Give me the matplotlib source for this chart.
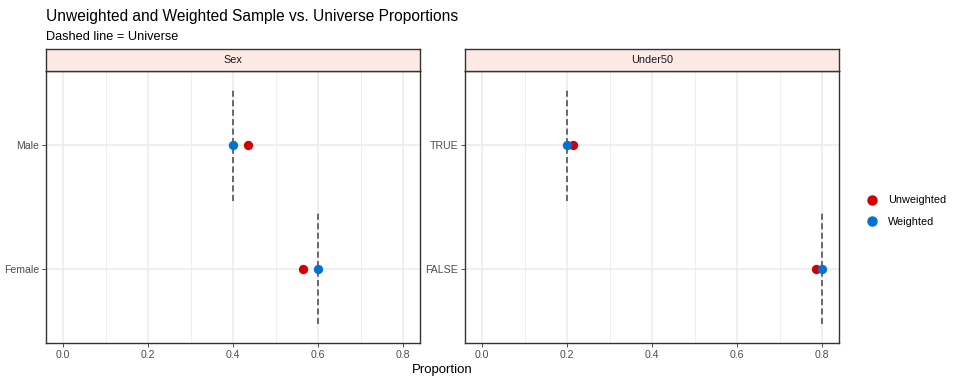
import matplotlib
matplotlib.use("Agg")
import matplotlib.pyplot as plt
from matplotlib.lines import Line2D

plt.rcParams['font.family'] = ['Liberation Sans', 'DejaVu Sans']

# data
panels = ["Sex", "Under50"]
levels = {"Sex": ["Female", "Male"], "Under50": ["FALSE", "TRUE"]}
unweighted = {"Sex": [0.565, 0.435], "Under50": [0.787, 0.213]}
weighted = {"Sex": [0.60, 0.40], "Under50": [0.80, 0.20]}
universe = {"Sex": [0.60, 0.40], "Under50": [0.80, 0.20]}
xticks = [0.0, 0.2, 0.4, 0.6, 0.8]

col_unw = "#D40000"
col_w = "#0072D6"
grid_col = "#EBEBEB"
border_col = "#333333"
strip_fill = "#FCE9E3"

W, H = 960, 384
fig = plt.figure(figsize=(W / 100, H / 100), dpi=100)


def frac(x0, y0, x1, y1):
    return [x0 / W, 1 - y1 / H, (x1 - x0) / W, (y1 - y0) / H]


lefts = [(46, 420), (465, 839)]
for (x0, x1), p in zip(lefts, panels):
    ax = fig.add_axes(frac(x0, 71, x1, 343))
    ax.set_xlim(-0.04, 0.84)
    ax.set_ylim(0.4, 2.6)
    ys = [1, 2]
    for v in [0.1, 0.3, 0.5, 0.7]:
        ax.axvline(v, color=grid_col, lw=0.55, zorder=0)
    for v in xticks:
        ax.axvline(v, color=grid_col, lw=1.1, zorder=0)
    for y in ys:
        ax.axhline(y, color=grid_col, lw=1.1, zorder=0)
    for y, u in zip(ys, universe[p]):
        ax.plot([u, u], [y - 0.45, y + 0.45], color="#444444", lw=1.1,
                dashes=(4.0, 2.2), zorder=1)
    ax.scatter(unweighted[p], ys, s=45, color=col_unw, zorder=3, linewidths=0)
    ax.scatter(weighted[p], ys, s=45, color=col_w, zorder=4, linewidths=0)
    ax.set_xticks(xticks)
    ax.set_xticklabels([f"{v:.1f}" for v in xticks])
    ax.set_yticks(ys)
    ax.set_yticklabels(levels[p])
    ax.tick_params(axis="both", colors="#333333", labelcolor="#4D4D4D",
                   labelsize=7.6, length=2.7, width=0.6, pad=2.2)
    for s in ax.spines.values():
        s.set_color(border_col)
        s.set_linewidth(1.0)
    # strip
    sx = fig.add_axes(frac(x0, 49, x1, 71))
    sx.set_facecolor(strip_fill)
    sx.set_xticks([])
    sx.set_yticks([])
    for s in sx.spines.values():
        s.set_color(border_col)
        s.set_linewidth(1.0)
    sx.text(0.5, 0.5, p, ha="center", va="center", fontsize=7.8,
            color="#1A1A1A", transform=sx.transAxes)

fig.text(46 / W, 1 - 17 / H, "Unweighted and Weighted Sample vs. Universe Proportions",
         fontsize=11.2, ha="left", va="center")
fig.text(46 / W, 1 - 37 / H, "Dashed line = Universe", fontsize=9.2,
         ha="left", va="center")
fig.text(442 / W, 1 - 370 / H, "Proportion", fontsize=9.5, ha="center", va="center")

handles = [
    Line2D([], [], marker="o", ls="", color=col_unw, markersize=6.5, label="Unweighted"),
    Line2D([], [], marker="o", ls="", color=col_w, markersize=6.5, label="Weighted"),
]
fig.legend(handles=handles, loc="center left", bbox_to_anchor=(862 / W, 1 - 211 / H),
           frameon=False, fontsize=7.8, handletextpad=1.0, labelspacing=1.05,
           borderaxespad=0, handlelength=1.0)

fig.savefig("out.png", dpi=100)
